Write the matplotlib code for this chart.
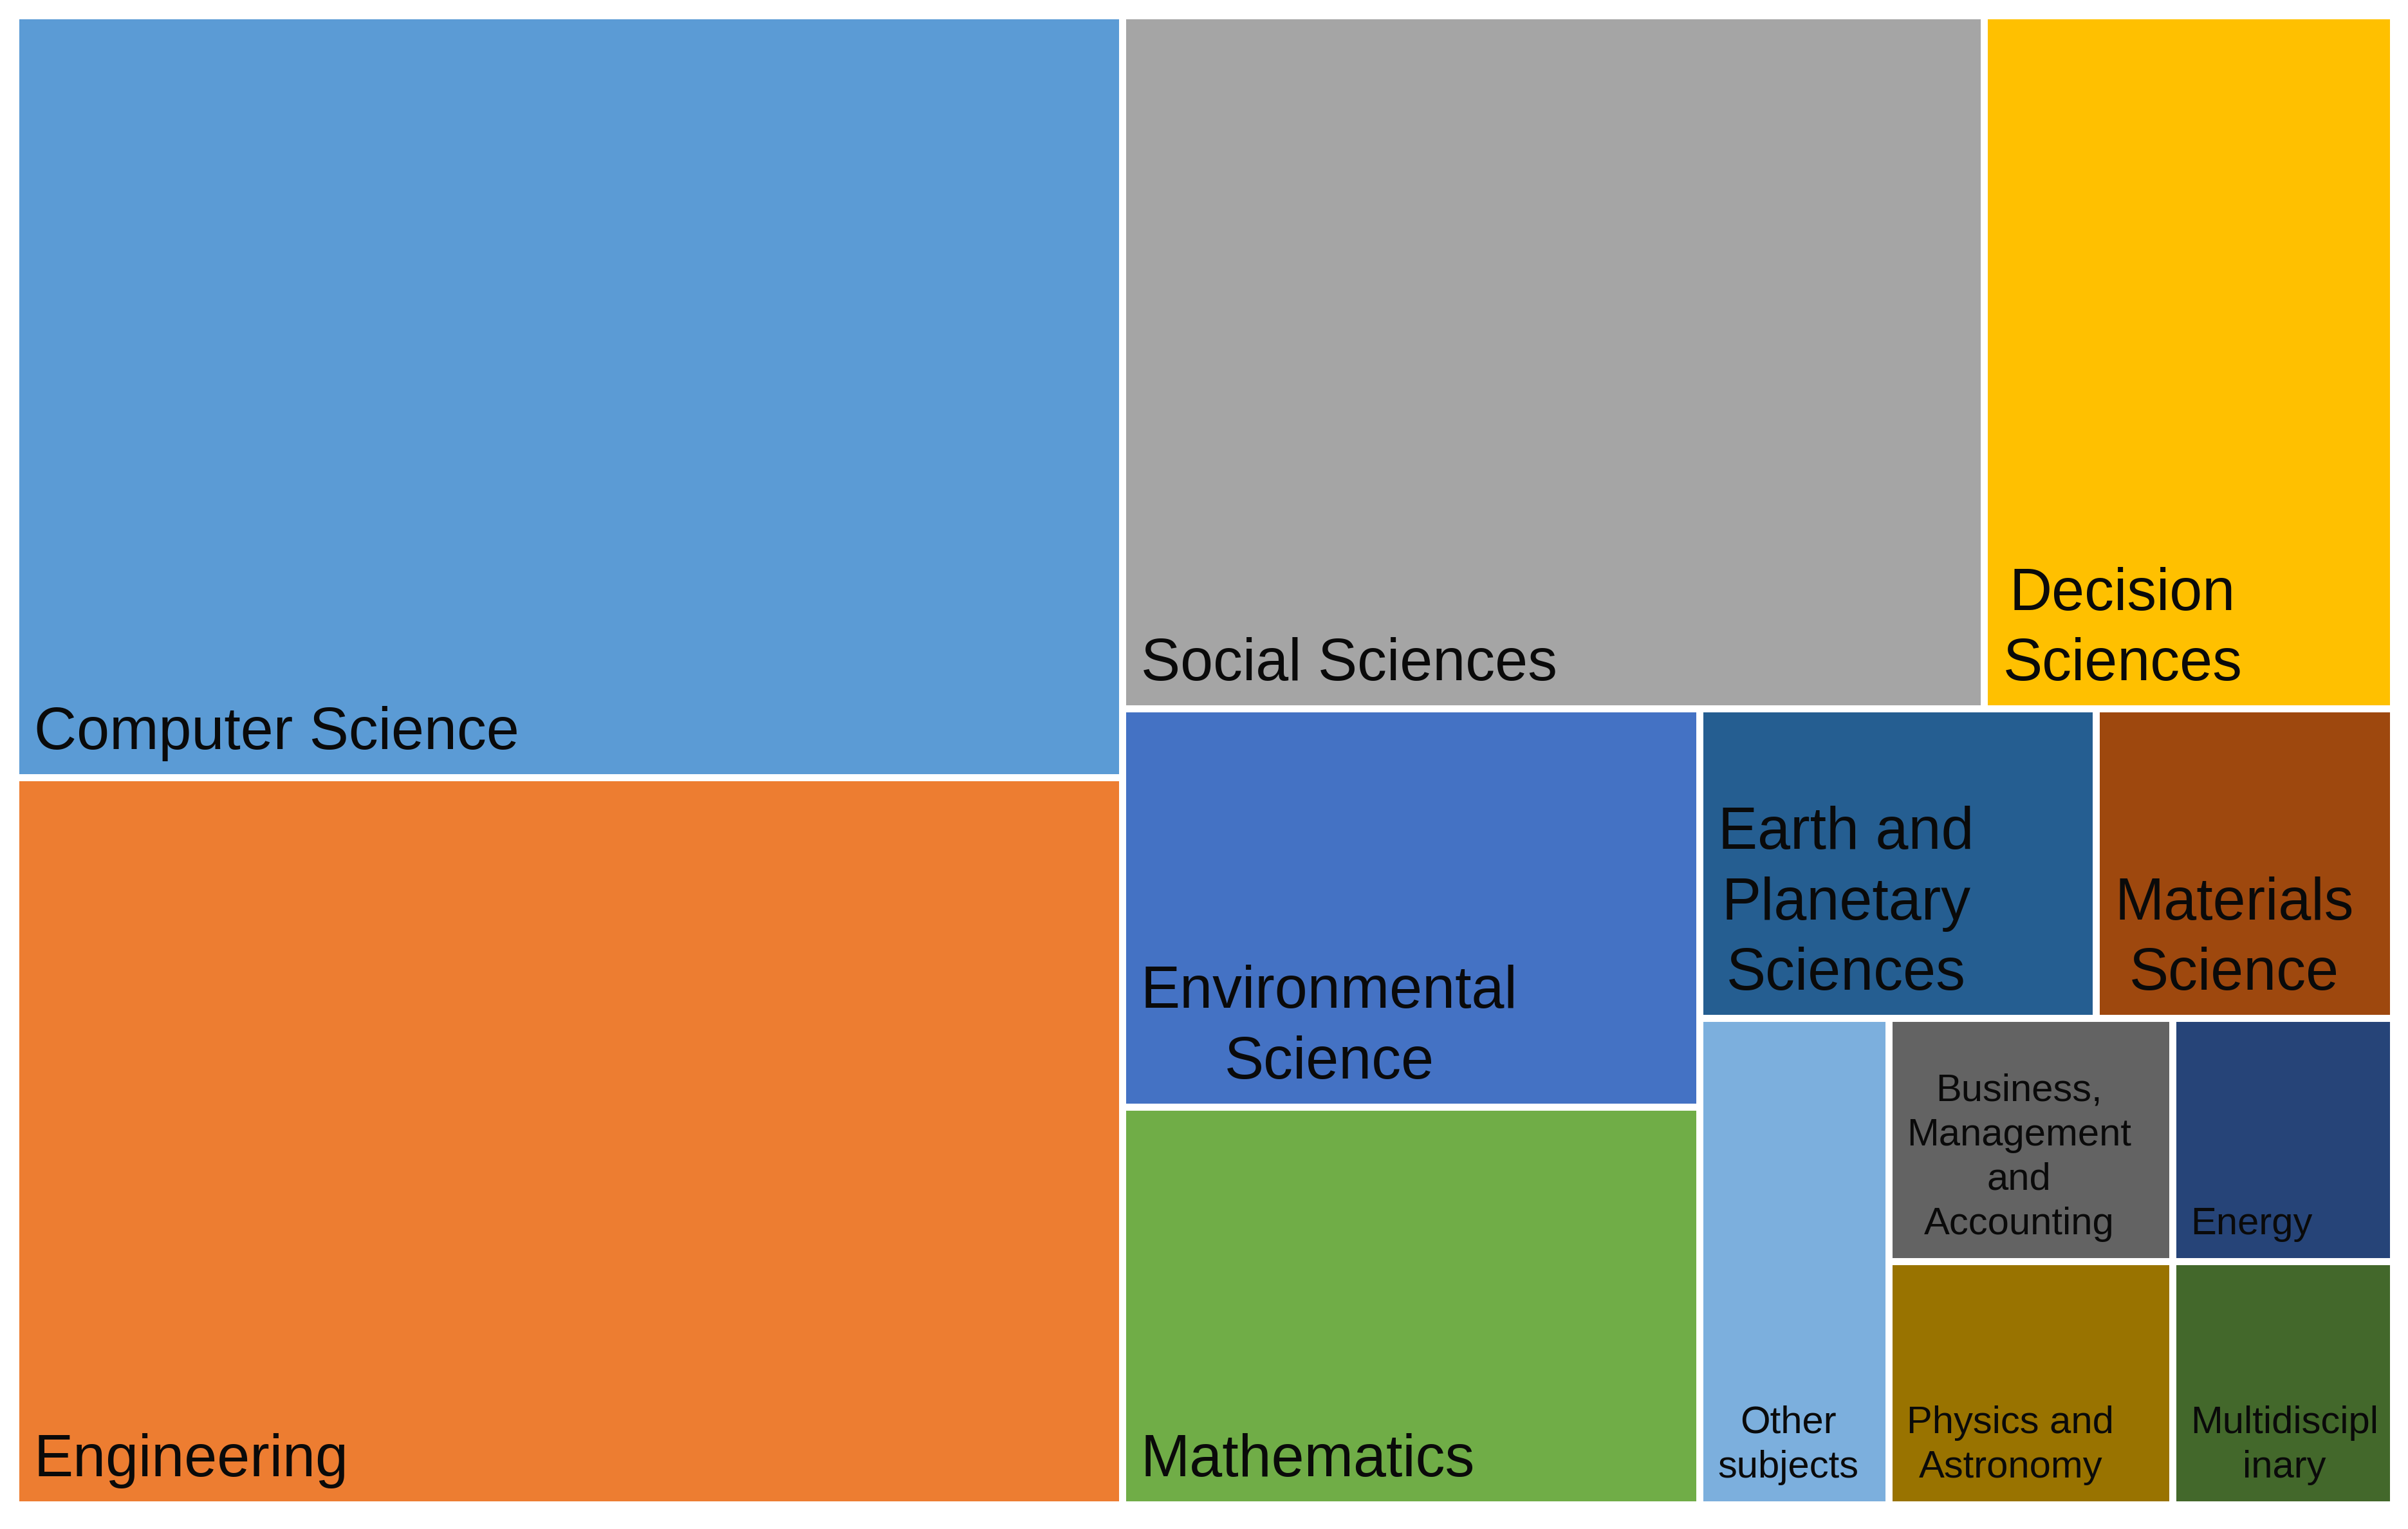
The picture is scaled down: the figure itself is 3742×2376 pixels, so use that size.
import matplotlib.pyplot as plt
from matplotlib.patches import Rectangle

# subject areas, in the order the chart places them
subjects = ['Computer Science', 'Engineering', 'Social Sciences', 'Decision Sciences',
            'Environmental Science', 'Mathematics', 'Earth and Planetary Sciences',
            'Materials Science', 'Other subjects', 'Business, Management and Accounting',
            'Physics and Astronomy', 'Energy', 'Multidisciplinary']
counts = [110, 105, 78, 37, 30, 30, 16, 12, 12, 9, 9, 7, 7]

# labels as wrapped in the tiles
labels = ['Computer Science', 'Engineering', 'Social Sciences', 'Decision\nSciences',
          'Environmental\nScience', 'Mathematics', 'Earth and\nPlanetary\nSciences',
          'Materials\nScience', 'Other\nsubjects', 'Business,\nManagement\nand\nAccounting',
          'Physics and\nAstronomy', 'Energy', 'Multidiscipl\ninary']
small_label = [False] * 8 + [True] * 5

colors = ['#5B9BD5', '#ED7D31', '#A5A5A5', '#FFC000', '#4472C4', '#70AD47',
          '#255E91', '#9E480E', '#7CAFDD', '#636363', '#997300', '#264478', '#43682B']

# number of tiles in each strip of the layout
strip_sizes = [2, 2, 2, 2, 1, 2, 1, 1]


def strip_layout(values, sizes, x, y, w, h):
    # lay strips along the shorter side of the space that is left
    rects = []
    i = 0
    left = float(sum(values))
    for n in sizes:
        group = values[i:i + n]
        gsum = float(sum(group))
        share = gsum / left
        if w >= h:
            cw = w * share
            yy = y
            for v in group:
                ch = h * v / gsum
                rects.append((x, yy, cw, ch))
                yy += ch
            x += cw
            w -= cw
        else:
            rh = h * share
            xx = x
            for v in group:
                cw = w * v / gsum
                rects.append((xx, y, cw, rh))
                xx += cw
            y += rh
            h -= rh
        left -= gsum
        i += n
    return rects


fig = plt.figure(figsize=(37.42, 23.76), dpi=100)
ax = fig.add_axes([0, 0, 1, 1])
ax.set_xlim(0, 3742)
ax.set_ylim(2376, 0)
ax.axis('off')

rects = strip_layout(counts, strip_sizes, 24, 24, 3695, 2314)

for (x, y, w, h), lab, col, sm in zip(rects, labels, colors, small_label):
    ax.add_patch(Rectangle((x, y), w, h, facecolor=col, edgecolor='white', linewidth=7.9))
    if sm:
        ax.text(x + 28, y + h - 30, lab, ha='left', va='bottom', multialignment='center',
                fontsize=43, family=['Liberation Sans', 'DejaVu Sans'], color='#0a0a0a',
                linespacing=1.33)
    else:
        ax.text(x + 29, y + h - 25, lab, ha='left', va='bottom', multialignment='center',
                fontsize=66, family=['Liberation Sans', 'DejaVu Sans'], color='#0a0a0a',
                linespacing=1.35)

fig.savefig('out.png', dpi=100, facecolor='white')
